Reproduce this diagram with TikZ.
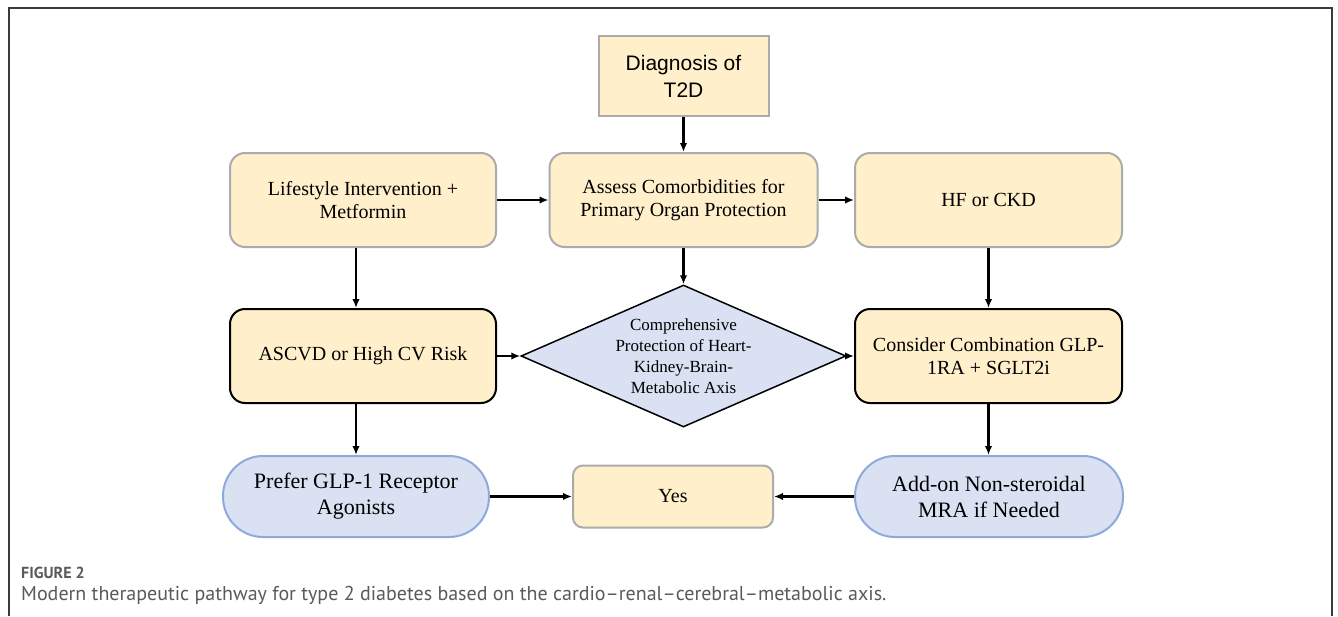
\documentclass[tikz,border=0pt]{standalone}
\usepackage{fontspec}
\setmainfont{Liberation Serif}
\newfontfamily\diagfont{Liberation Sans}
\newfontfamily\capfont{PT Sans}
\usetikzlibrary{shapes.geometric,arrows.meta}
\definecolor{boxyellow}{HTML}{FFF0CB}
\definecolor{boxgray}{HTML}{ABABAB}
\definecolor{boxblue}{HTML}{D9E1F2}
\definecolor{blueline}{HTML}{8EAADB}
\definecolor{capgray}{HTML}{5A5A5A}
\definecolor{framegray}{HTML}{3A3A3A}
\tikzset{
  yellowbox/.style={draw=boxgray, fill=boxyellow, line width=2pt, rounded corners=15pt,
    align=center, inner sep=0pt, font=\fontsize{20}{22.5}\selectfont},
  blackbox/.style={yellowbox, draw=black},
  stadium/.style={draw=blueline, fill=boxblue, line width=2pt, rounded corners=40pt,
    align=center, inner sep=0pt, font=\fontsize{22}{26}\selectfont},
  decision/.style={diamond, draw=black, fill=boxblue, line width=1.5pt,
    inner sep=0pt, shape aspect=2.29, minimum width=325pt, minimum height=142pt},
  flow/.style={-{Latex[length=9pt,width=7.5pt]}, line width=2.2pt, black},
}
\begin{document}
\begin{tikzpicture}[x=1pt,y=-1pt]
\useasboundingbox (0,0) rectangle (1338,616);
\fill[white] (0,0) rectangle (1338,616);
\draw[framegray, line width=1.4pt] (9,616) -- (9,8) -- (1332,8) -- (1332,616);

\node[draw=boxgray, fill=boxyellow, line width=2pt, align=center, inner sep=0pt,
  minimum width=170pt, minimum height=80pt, font=\diagfont\fontsize{21}{27}\selectfont]
  (diag) at (683.5,76) {Diagnosis of\\T2D};

\node[yellowbox, minimum width=266pt, minimum height=94pt] (life) at (363,200)
  {Lifestyle Intervention +\\Metformin};
\node[yellowbox, minimum width=268pt, minimum height=94pt] (assess) at (683.5,200)
  {Assess Comorbidities for\\Primary Organ Protection};
\node[yellowbox, minimum width=267pt, minimum height=94pt] (hf) at (988.5,200)
  {HF or CKD};

\node[blackbox, minimum width=266pt, minimum height=94pt] (ascvd) at (363,356)
  {ASCVD or High CV Risk};
\node[decision] (dia) at (683.5,356) {};
\node[align=center, inner sep=0pt, font=\fontsize{17}{20.8}\selectfont] (diatext) at (dia.center)
  {Comprehensive\\Protection of Heart-\\Kidney-Brain-\\Metabolic Axis};
\node[blackbox, minimum width=267pt, minimum height=94pt] (cons) at (988.5,356)
  {Consider Combination GLP-\\1RA + SGLT2i};

\node[stadium, minimum width=266pt, minimum height=81pt] (pref) at (356,496.5)
  {Prefer GLP-1 Receptor\\Agonists};
\node[yellowbox, rounded corners=10pt, minimum width=200pt, minimum height=62pt] (yes) at (673,496.5)
  {Yes};
\node[stadium, minimum width=268pt, minimum height=81pt] (addon) at (989,496.5)
  {Add-on Non-steroidal\\MRA if Needed};

\draw[flow] (diag.south) -- (assess.north);
\draw[flow] (life.east) -- (assess.west);
\draw[flow] (assess.east) -- (hf.west);
\draw[flow] (assess.south) -- (dia.north);
\draw[flow] (life.south -| pref.north) -- (ascvd.north -| pref.north);
\draw[flow] (hf.south) -- (cons.north);
\draw[flow] (ascvd.east) -- (dia.west);
\draw[flow] (dia.east) -- (cons.west);
\draw[flow] (ascvd.south -| pref.north) -- (pref.north);
\draw[flow] (cons.south) -- (cons.south |- addon.north);
\draw[flow] (pref.east) -- (yes.west);
\draw[flow] (addon.west) -- (yes.east);

\node[anchor=west, inner sep=0pt, text=capgray, font=\capfont\bfseries\fontsize{16}{18}\selectfont]
  (fig) at (21,573) {FIGURE 2};
\node[anchor=west, inner sep=0pt, text=capgray, font=\capfont\fontsize{20}{22}\selectfont]
  (cap) at (21,595) {Modern therapeutic pathway for type 2 diabetes based on the cardio–renal–cerebral–metabolic axis.};
\end{tikzpicture}
\end{document}
